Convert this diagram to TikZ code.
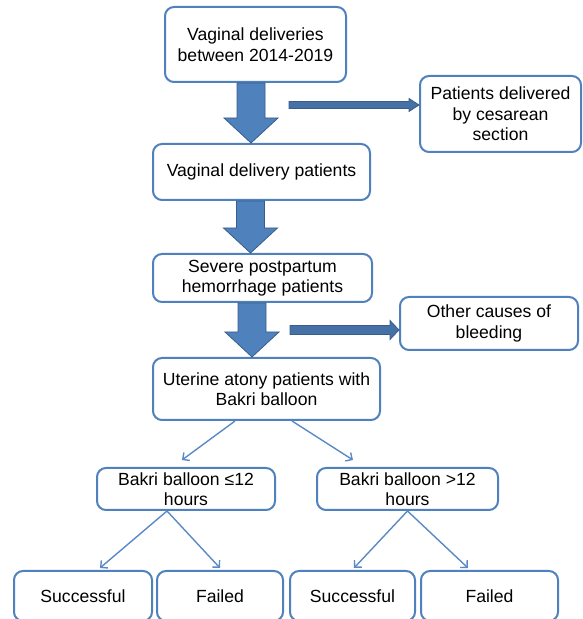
\documentclass[tikz,border=0pt]{standalone}
\usepackage{fontspec}
\setmainfont{Liberation Sans}
\usetikzlibrary{calc,arrows.meta}

\definecolor{boxblue}{HTML}{4F81BD}
\definecolor{arrowdark}{HTML}{385D8A}
\definecolor{linkblue}{HTML}{5A8AC6}

\newcommand{\fatarrow}[3]{%
  \path[fatarr] let \p1=(#2.south), \p2=(#3.north) in
    (#1pt-14pt,\y1) -- (#1pt+14pt,\y1) -- (#1pt+14pt,\y2+25pt) -- (#1pt+27pt,\y2+25pt)
    -- (#1pt,\y2) -- (#1pt-27pt,\y2+25pt) -- (#1pt-14pt,\y2+25pt) -- cycle;}
\newcommand{\sidearrow}[5]{%
  \path[fatarr,fill=boxblue!55!arrowdark] let \p1=(#1), \p2=(#2.west) in
    (\x1,\y1-#3pt) -- (\x2-#5pt,\y1-#3pt) -- (\x2-#5pt,\y1-#4pt) -- (\x2,\y1)
    -- (\x2-#5pt,\y1+#4pt) -- (\x2-#5pt,\y1+#3pt) -- (\x1,\y1+#3pt) -- cycle;}

\begin{document}
\begin{tikzpicture}[x=1pt,y=1pt,
  flowbox/.style={draw=boxblue,line width=2pt,rounded corners=9pt,fill=white,
    align=center,inner sep=1pt,font=\fontsize{17.6}{20.5}\selectfont},
  fatarr/.style={fill=boxblue,draw=arrowdark,line width=0.8pt,line join=miter},
  link/.style={draw=linkblue,line width=1.4pt,-{Straight Barb[length=5pt,width=10pt]}}]
  \useasboundingbox (0,0) rectangle (582,619);
  \clip (0,0) rectangle (582,619);
  \node[flowbox,minimum width=181,minimum height=75] (top) at (255.5,574.5) {Vaginal deliveries\\between 2014-2019};
  \node[flowbox,minimum width=217,minimum height=56] (vdp) at (261.5,447) {Vaginal delivery patients};
  \node[flowbox,minimum width=219,minimum height=48] (sph) at (262.5,341) {Severe postpartum\\hemorrhage patients};
  \node[flowbox,minimum width=227,minimum height=62] (uab) at (266.5,230) {Uterine atony patients with\\Bakri balloon};
  \node[flowbox,minimum width=161,minimum height=76] (ces) at (500.5,505) {Patients delivered\\by cesarean\\section};
  \node[flowbox,minimum width=178,minimum height=53] (oth) at (489,295.5) {Other causes of\\bleeding};
  \node[flowbox,minimum width=178,minimum height=42] (le12) at (186,130) {Bakri balloon ≤12\\hours};
  \node[flowbox,minimum width=181,minimum height=42] (gt12) at (407.5,130) {Bakri balloon >12\\hours};
  \node[flowbox,minimum width=138,minimum height=50] (s1) at (83,23) {Successful};
  \node[flowbox,minimum width=126,minimum height=50] (f1) at (220,23) {Failed};
  \node[flowbox,minimum width=125,minimum height=50] (s2) at (352.5,23) {Successful};
  \node[flowbox,minimum width=137,minimum height=50] (f2) at (489.5,23) {Failed};

  \fatarrow{251}{top}{vdp}
  \fatarrow{250.5}{vdp}{sph}
  \fatarrow{252}{sph}{uab}
  \coordinate (c1) at (289,514);
  \coordinate (c2) at (290,289);
  \sidearrow{c1}{ces}{3.5}{6.5}{10}
  \sidearrow{c2}{oth}{4.5}{9.5}{9}

  \draw[link] ($(uab.south)+(-31.5,0)$) -- ($(le12.north)+(-4,7)$);
  \draw[link] ($(uab.south)+(25.5,0)$) -- ($(gt12.north)+(-54.5,7)$);
  \draw[link] ($(le12.south)+(-19,0)$) -- ($(s1.north)+(17,2)$);
  \draw[link] ($(le12.south)+(-19,0)$) -- ($(f1.north)+(0,2)$);
  \draw[link] (gt12.south) -- ($(s2.north)+(1.5,2)$);
  \draw[link] (gt12.south) -- ($(f2.north)+(-21.5,2)$);
\end{tikzpicture}
\end{document}
